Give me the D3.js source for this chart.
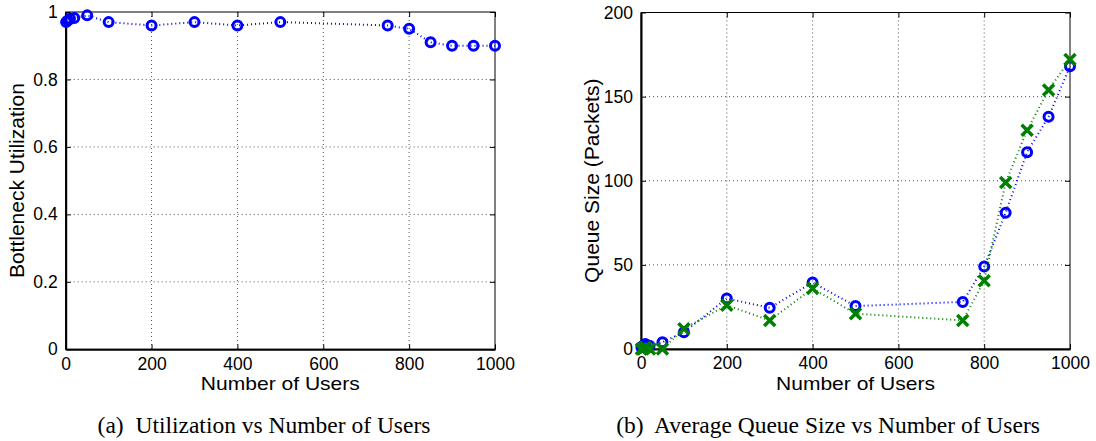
<!DOCTYPE html>
<html>
<head>
<meta charset="utf-8">
<script src="https://cdn.jsdelivr.net/npm/d3@7"></script>
<style>
  body { margin: 0; background: #fff; }
  .tick text { font-family: "Liberation Sans", Arial, sans-serif; font-size: 17.5px; fill: #000; }
  .title { font-family: "Liberation Sans", Arial, sans-serif; font-size: 21px; fill: #000; }
  .xtitle { font-family: "Liberation Sans", Arial, sans-serif; font-size: 18.5px; fill: #000; }
  .caption { font-family: "Liberation Serif", "Times New Roman", serif; font-size: 23.5px; fill: #000; }
</style>
</head>
<body>
<div id="chart"></div>
<script>
// utilization vs users
let utilUsers = [1, 5, 10, 20, 50, 100, 200, 300, 400, 500, 750, 800, 850, 900, 950, 1000]
let utilValues = [0.97, 0.975, 0.98, 0.982, 0.99, 0.97, 0.96, 0.97, 0.96, 0.97, 0.96, 0.95, 0.91, 0.90, 0.90, 0.90]

// queue size vs users
let queueUsers = [1, 5, 10, 20, 50, 100, 200, 300, 400, 500, 750, 800, 850, 900, 950, 1000]
let queueBlue = [1, 2, 3, 2, 4, 10, 30, 24.5, 39.5, 25.5, 28, 49, 81, 117, 138, 168]
let queueGreen = [0, 0, 1, 0, 0, 12, 26, 17, 36, 21, 17, 40.5, 99, 130, 154, 172]

let xTicks = [0, 200, 400, 600, 800, 1000]
let utilTicks = [0, 0.2, 0.4, 0.6, 0.8, 1]
let queueTicks = [0, 50, 100, 150, 200]

let svg = d3.select('#chart').append('svg')
    .attr('width', 1096)
    .attr('height', 441)

function drawPanel(opts) {
  let x = d3.scaleLinear().domain([0, 1000]).range([opts.left, opts.right])
  let y = d3.scaleLinear().domain(opts.yDomain).range([opts.bottom, opts.top])
  let g = svg.append('g')

  // dotted grid
  g.append('g').selectAll('line.gx')
    .data(xTicks.slice(1, -1))
    .enter().append('line')
      .attr('x1', d => x(d)).attr('x2', d => x(d))
      .attr('y1', opts.top).attr('y2', opts.bottom)
      .attr('stroke', '#555').attr('stroke-width', 1).attr('stroke-dasharray', '1,3')
  g.append('g').selectAll('line.gy')
    .data(opts.yTicks.slice(1, -1))
    .enter().append('line')
      .attr('x1', opts.left).attr('x2', opts.right)
      .attr('y1', d => y(d)).attr('y2', d => y(d))
      .attr('stroke', '#555').attr('stroke-width', 1).attr('stroke-dasharray', '1,3')

  // box
  g.append('rect')
    .attr('x', opts.left).attr('y', opts.top)
    .attr('width', opts.right - opts.left).attr('height', opts.bottom - opts.top)
    .attr('fill', 'none').attr('stroke', '#000').attr('stroke-width', 1)

  // axes with inward ticks
  let xAxis = g.append('g')
    .attr('transform', `translate(0,${opts.bottom})`)
    .call(d3.axisBottom(x).tickValues(xTicks).tickSizeInner(-5).tickSizeOuter(0).tickPadding(8)
      .tickFormat(d3.format('d')))
  xAxis.select('.domain').attr('stroke-width', 2)
  let yAxis = g.append('g')
    .attr('transform', `translate(${opts.left},0)`)
    .call(d3.axisLeft(y).tickValues(opts.yTicks).tickSizeInner(-5).tickSizeOuter(0).tickPadding(8)
      .tickFormat(d3.format('')))
  yAxis.select('.domain').attr('stroke-width', 2)
  // top/right ticks
  g.append('g')
    .attr('transform', `translate(0,${opts.top})`)
    .call(d3.axisTop(x).tickValues(xTicks).tickSizeInner(-5).tickSizeOuter(0).tickFormat(''))
    .select('.domain').remove()
  g.append('g')
    .attr('transform', `translate(${opts.right},0)`)
    .call(d3.axisRight(y).tickValues(opts.yTicks).tickSizeInner(-5).tickSizeOuter(0).tickFormat(''))
    .select('.domain').remove()

  // titles
  g.append('text').attr('class', 'xtitle')
    .attr('x', (opts.left + opts.right) / 2).attr('y', opts.bottom + 40.5)
    .attr('text-anchor', 'middle')
    .attr('textLength', 159).attr('lengthAdjust', 'spacingAndGlyphs')
    .text('Number of Users')
  g.append('text').attr('class', 'title')
    .attr('transform', `translate(${opts.yTitleX},${(opts.top + opts.bottom) / 2}) rotate(-90)`)
    .attr('text-anchor', 'middle').text(opts.yTitle)
  g.append('text').attr('class', 'caption')
    .attr('x', opts.captionX).attr('y', 433)
    .attr('text-anchor', 'middle').attr('xml:space', 'preserve')
    .text(opts.caption)

  // series
  opts.series.forEach(s => {
    let pts = opts.xs.map((d, i) => [d, s.values[i]])
    g.append('path')
      .datum(pts)
      .attr('fill', 'none')
      .attr('stroke', s.color)
      .attr('stroke-width', 2)
      .attr('stroke-dasharray', '1,3')
      .attr('d', d3.line().x(d => x(d[0])).y(d => y(d[1])))
    let m = g.append('g').selectAll('g')
      .data(pts)
      .enter().append('g')
      .attr('transform', d => `translate(${x(d[0])},${y(d[1])})`)
    if (s.marker == 'o') {
      m.append('circle').attr('r', 4.5)
        .attr('fill', 'none').attr('stroke', s.color).attr('stroke-width', 3)
    } else {
      m.append('path').attr('d', 'M-5.5,-5.5L5.5,5.5M-5.5,5.5L5.5,-5.5')
        .attr('stroke', s.color).attr('stroke-width', 3.5)
    }
  })
}

drawPanel({
  left: 65.7, right: 495, top: 12, bottom: 349.3,
  yDomain: [0, 1], yTicks: utilTicks,
  yTitle: 'Bottleneck Utilization', yTitleX: 24,
  caption: '(a)  Utilization vs Number of Users', captionX: 264,
  xs: utilUsers,
  series: [{ values: utilValues, color: '#0000ff', marker: 'o' }]
})

drawPanel({
  left: 641, right: 1070, top: 12.5, bottom: 349,
  yDomain: [0, 200], yTicks: queueTicks,
  yTitle: 'Queue Size (Packets)', yTitleX: 599,
  caption: '(b)  Average Queue Size vs Number of Users', captionX: 828,
  xs: queueUsers,
  series: [
    { values: queueBlue, color: '#0000ff', marker: 'o' },
    { values: queueGreen, color: '#008000', marker: 'x' }
  ]
})
</script>
</body>
</html>
